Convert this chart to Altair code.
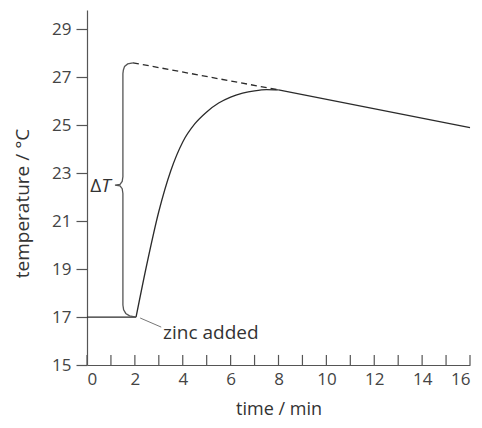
import altair as alt
import pandas as pd

# flat part before zinc added
flat_t = [0, 2.05]
flat_T = [17.0, 17.0]

# reaction curve (rise to maximum)
curve_t = [2.05, 2.5, 3.0, 3.5, 4.0, 4.5, 5.0, 5.5, 6.0, 6.5, 7.0, 7.5, 8.0]
curve_T = [17.0, 19.2, 21.4, 23.1, 24.3, 25.05, 25.55, 25.92, 26.17, 26.33, 26.43, 26.48, 26.47]

# cooling after maximum
cool_t = [8.0, 16.0]
cool_T = [26.47, 24.9]

# extrapolated cooling line
extrap_t = [1.92, 8.0]
extrap_T = [27.6, 26.47]

# curly brace for delta T
brace_t = [1.92, 1.7, 1.57, 1.52, 1.5, 1.5, 1.47, 1.38, 1.17, 1.38, 1.47, 1.5, 1.5, 1.53, 1.62, 1.78, 2.05]
brace_T = [27.6, 27.55, 27.45, 27.3, 27.15, 22.85, 22.65, 22.53, 22.5, 22.47, 22.35, 22.15, 17.5, 17.3, 17.15, 17.05, 17.0]

# zinc added leader
leader_t = [2.22, 3.1]
leader_T = [16.96, 16.58]

x_ticks = list(range(0, 17))
y_ticks = list(range(15, 30))
x_labels = list(range(0, 17, 2))

FONT = "Open Sans"
LINE = "#2b2b2b"
AXIS = "#555555"

xs = alt.Scale(domain=[0, 16], nice=False, zero=False)
ys = alt.Scale(domain=[15, 29.8], nice=False, zero=False)

xax = alt.Axis(values=x_labels, ticks=False, grid=False, domainColor=AXIS, domainWidth=1.2,
               labelFont=FONT, labelFontSize=17, labelColor="#444", labelPadding=6,
               title="time / min", titleFont=FONT, titleFontSize=18, titleFontWeight="normal",
               titleColor="#333", titlePadding=13)
yax = alt.Axis(values=y_ticks, ticks=True, tickSize=11, tickColor=AXIS, tickWidth=1.2, grid=False,
               domainColor=AXIS, domainWidth=1.2,
               labelExpr="datum.value % 2 == 1 ? datum.label : ''",
               labelFont=FONT, labelFontSize=17, labelColor="#444", labelPadding=5,
               title="temperature / °C", titleFont=FONT, titleFontSize=19, titleFontWeight="normal",
               titleColor="#333", titleAngle=270, titleBaseline="middle", titleX=-65, titleY=193)

flat = pd.DataFrame({"t": flat_t, "T": flat_T})
curve = pd.DataFrame({"t": curve_t, "T": curve_T})
cool = pd.DataFrame({"t": cool_t, "T": cool_T})
extrap = pd.DataFrame({"t": extrap_t, "T": extrap_T})
brace = pd.DataFrame({"t": brace_t, "T": brace_T, "o": list(range(len(brace_t)))})
leader = pd.DataFrame({"t": leader_t, "T": leader_T})
xt = pd.DataFrame({"t": x_ticks})

base_flat = alt.Chart(flat).mark_line(color=LINE, strokeWidth=1.3).encode(
    x=alt.X("t:Q", scale=xs, axis=xax), y=alt.Y("T:Q", scale=ys, axis=yax))
curve_l = alt.Chart(curve).mark_line(color=LINE, strokeWidth=1.3, interpolate="monotone").encode(
    x=alt.X("t:Q", scale=xs), y=alt.Y("T:Q", scale=ys))
cool_l = alt.Chart(cool).mark_line(color=LINE, strokeWidth=1.3).encode(
    x=alt.X("t:Q", scale=xs), y=alt.Y("T:Q", scale=ys))
extrap_l = alt.Chart(extrap).mark_line(color=LINE, strokeWidth=1.3, strokeDash=[6, 4]).encode(
    x=alt.X("t:Q", scale=xs), y=alt.Y("T:Q", scale=ys))
brace_l = alt.Chart(brace).mark_line(color="#555", strokeWidth=1.3).encode(
    x=alt.X("t:Q", scale=xs), y=alt.Y("T:Q", scale=ys), order="o:Q")
leader_l = alt.Chart(leader).mark_line(color="#777", strokeWidth=1).encode(
    x=alt.X("t:Q", scale=xs), y=alt.Y("T:Q", scale=ys))
ticks = alt.Chart(xt).mark_rule(color=AXIS, strokeWidth=1.2).encode(
    x=alt.X("t:Q", scale=xs), y=alt.datum(15, scale=ys), y2=alt.datum(15.42))

zinc = alt.Chart(pd.DataFrame({"t": [3.18], "T": [16.33], "s": ["zinc added"]})).mark_text(
    align="left", baseline="middle", font=FONT, fontSize=19, color="#333").encode(
    x=alt.X("t:Q", scale=xs), y=alt.Y("T:Q", scale=ys), text="s:N")
delta = alt.Chart(pd.DataFrame({"t": [0.6], "T": [22.45], "s": ["Δ"]})).mark_text(
    align="right", baseline="middle", font=FONT, fontSize=19, color="#333").encode(
    x=alt.X("t:Q", scale=xs), y=alt.Y("T:Q", scale=ys), text="s:N")
tee = alt.Chart(pd.DataFrame({"t": [0.6], "T": [22.45], "s": ["T"]})).mark_text(
    align="left", baseline="middle", font=FONT, fontSize=19, fontStyle="italic", color="#333").encode(
    x=alt.X("t:Q", scale=xs), y=alt.Y("T:Q", scale=ys), text="s:N")

chart = alt.layer(base_flat, curve_l, cool_l, extrap_l, brace_l, leader_l, ticks, zinc, delta, tee).properties(
    width=383, height=355,
    autosize=alt.AutoSizeParams(type="none"),
    padding={"left": 79, "top": 2, "right": 4, "bottom": 55},
    background="white",
).configure_view(stroke=None)

chart.save("out.html", embed_options={"renderer": "svg", "actions": False})
